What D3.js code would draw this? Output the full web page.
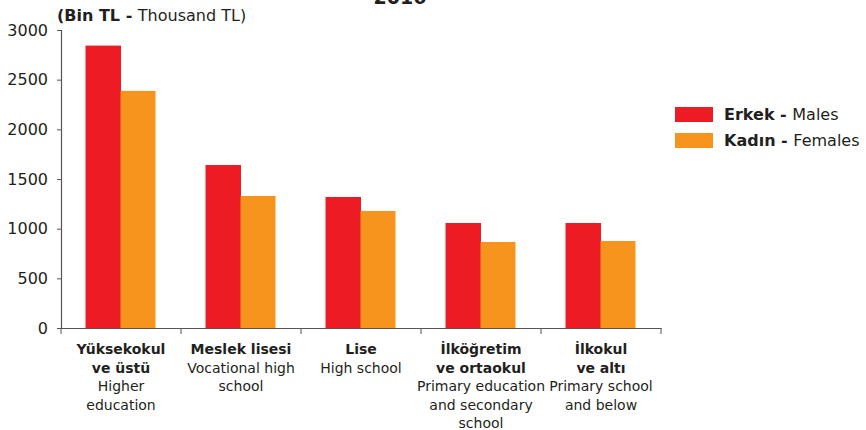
<!DOCTYPE html>
<html><head><meta charset="utf-8">
<script src="https://cdn.jsdelivr.net/npm/d3@7"></script>
<style>
html,body{margin:0;padding:0;background:#fff;}
svg{display:block;font-family:"DejaVu Sans",Verdana,sans-serif;}
</style></head>
<body>
<svg id="chart" width="866" height="430"></svg>
<script>
const title = "2016";
const categories = ["c1","c2","c3","c4","c5"];
const catBold = [["Yüksekokul","ve üstü"],["Meslek lisesi"],["Lise"],["İlköğretim","ve ortaokul"],["İlkokul","ve altı"]];
const catEn = [["Higher","education"],["Vocational high","school"],["High school"],["Primary education","and secondary","school"],["Primary school","and below"]];
const seriesKeys = ["male","female"];
const seriesBold = ["Erkek -","Kadın -"];
const seriesEn = ["Males","Females"];
const maleValues = [2843, 1641, 1319, 1057, 1057];
const femaleValues = [2387, 1329, 1178, 866, 876];
const yTicks = [0,500,1000,1500,2000,2500,3000];
const colors = ["#ED1C24","#F7941D"];

const svg = d3.select("#chart");
const x = d3.scaleBand().domain(categories).range([61,661]).paddingInner(0).paddingOuter(0);
const y = d3.scaleLinear().domain([0,3000]).range([328,30]);
const xs = d3.scaleBand().domain(seriesKeys).range([0, 70]);
const textCol = "#231f20";
const axisCol = "#555";

// title (cut off at top)
svg.append("text").attr("x",400).attr("y",3.5).attr("text-anchor","middle")
  .attr("font-size",19).attr("font-weight","bold").attr("fill",textCol).text(title);

// unit
const u = svg.append("text").attr("x",57).attr("y",21).attr("font-size",16).attr("fill",textCol);
u.append("tspan").attr("font-weight","bold").text("(Bin TL - ");
u.append("tspan").text("Thousand TL)");

// bars
const data = categories.map((c,i)=>({c, vals:[maleValues[i], femaleValues[i]]}));
const g = svg.append("g");
data.forEach(d=>{
  d.vals.forEach((v,j)=>{
    g.append("rect")
      .attr("x", x(d.c) + (x.bandwidth()-70)/2 + xs(seriesKeys[j]) - 0.5)
      .attr("y", y(v))
      .attr("width", xs.bandwidth() + (j===0?0.5:0))
      .attr("height", y(0)-y(v))
      .attr("fill", colors[j]);
  });
});

// y axis
const yAxis = svg.append("g").attr("transform","translate(61,0)")
  .call(d3.axisLeft(y).tickValues(yTicks).tickSize(4).tickPadding(9).tickFormat(d3.format("d")));
yAxis.select(".domain").attr("stroke",axisCol).attr("stroke-width",1.2);
yAxis.selectAll(".tick line").attr("stroke",axisCol);
yAxis.selectAll(".tick text").attr("font-size",16).attr("fill",textCol).attr("font-family","DejaVu Sans, sans-serif");

// x axis
const xAxis = svg.append("g").attr("transform","translate(0,328)")
  .call(d3.axisBottom(x).tickValues([]).tickSizeOuter(0));
xAxis.select(".domain").attr("stroke",axisCol).attr("stroke-width",1.2);
const tickPos = categories.map(c=>x(c)).concat([x.range()[1]]);
xAxis.selectAll(".sep").data(tickPos).enter().append("line")
  .attr("x1",d=>d).attr("x2",d=>d).attr("y1",0).attr("y2",6).attr("stroke",axisCol);

// category labels
categories.forEach((c,i)=>{
  const cx = x(c) + x.bandwidth()/2;
  const t = svg.append("text").attr("x",cx).attr("y",354).attr("text-anchor","middle")
    .attr("font-size",14).attr("fill",textCol);
  const lines = catBold[i].map(s=>({s,b:true})).concat(catEn[i].map(s=>({s,b:false})));
  lines.forEach((l,k)=>{
    t.append("tspan").attr("x",cx).attr("dy", k===0?0:18.5)
      .attr("font-weight", l.b?"bold":"normal").text(l.s);
  });
});

// legend
seriesKeys.forEach((k,i)=>{
  const ly = 107 + i*26;
  svg.append("rect").attr("x",675).attr("y",ly).attr("width",38).attr("height",15).attr("fill",colors[i]);
  const t = svg.append("text").attr("x",724).attr("y",ly+13).attr("font-size",16).attr("fill",textCol);
  t.append("tspan").attr("font-weight","bold").text(seriesBold[i]+" ");
  t.append("tspan").text(seriesEn[i]);
});
</script>
</body></html>
